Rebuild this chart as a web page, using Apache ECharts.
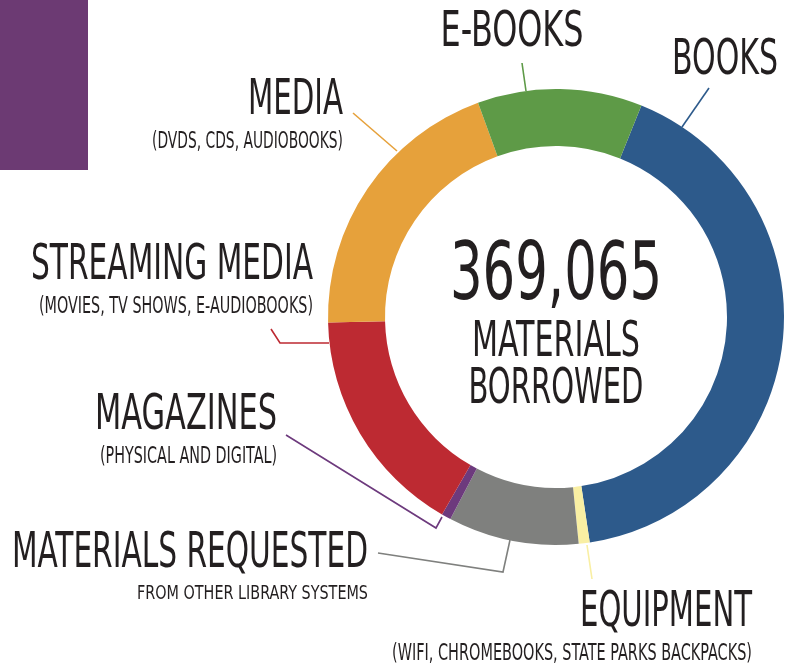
<!DOCTYPE html>
<html>
<head>
<meta charset="utf-8">
<script src="https://cdn.jsdelivr.net/npm/echarts@6/dist/echarts.min.js"></script>
<style>
    html, body { margin: 0; padding: 0; background: #fff; }
    #chart { width: 785px; height: 664px; }
</style>
</head>
<body>
<div id="chart"></div>
<script>
(function() {

    // 数据：从图上估读 (clockwise, starting at the blue/green boundary)
    var names = ['BOOKS', 'EQUIPMENT', 'MATERIALS REQUESTED', 'MAGAZINES', 'STREAMING MEDIA', 'MEDIA', 'E-BOOKS'];
    var subs = ['', '(WIFI, CHROMEBOOKS, STATE PARKS BACKPACKS)', 'FROM OTHER LIBRARY SYSTEMS',
        '(PHYSICAL AND DIGITAL)', '(MOVIES, TV SHOWS, E-AUDIOBOOKS)', '(DVDS, CDS, AUDIOBOOKS)', ''];
    var values = [153250, 2870, 34150, 2460, 60080, 73200, 43055];
    var colors = ['#2d5a8b', '#f9efa3', '#7f807e', '#6d3a7d', '#bd2a32', '#e6a13b', '#5e9a47'];
    var totalText = '369,065';
    var centerLines = ['MATERIALS', 'BORROWED'];

    // 标签位置 (x = anchor, y = cap top, w = title width, sw = subtitle width), leader line points
    var labelPos = [
        { x: 778, y: 40, w: 106, align: 'right', line: [[682, 127], [709, 88]] },
        { x: 752, y: 592, w: 172, sw: 360, align: 'right', line: [[587, 545], [592, 579]] },
        { x: 368, y: 533, w: 356, sw: 231, align: 'right', line: [[510, 540], [503, 572], [378, 553]] },
        { x: 277, y: 395, w: 182, sw: 177, align: 'right', line: [[442, 517], [436, 528], [286, 435]] },
        { x: 313, y: 245, w: 282, sw: 274, align: 'right', line: [[329, 343], [280, 343], [271, 329]] },
        { x: 343, y: 80, w: 95, sw: 191, align: 'right', line: [[397, 151], [353, 113]] },
        { x: 512, y: 12, w: 143, align: 'center', line: [[522, 63], [526, 91]] }
    ];

    var FONT = "'Liberation Sans Narrow', 'DejaVu Sans Condensed', sans-serif";

    // 量文字宽度，横向压缩到目标宽度
    var ctx = document.createElement('canvas').getContext('2d');
    function fitScale(text, font, width) {
        ctx.font = font;
        return width / ctx.measureText(text).width;
    }

    function textEl(text, x, y, size, width, align) {
        var font = size + 'px ' + FONT;
        return {
            type: 'text',
            x: x,
            y: y,
            scaleX: fitScale(text, font, width),
            style: {
                text: text,
                fill: '#231f20',
                font: font,
                align: align,
                verticalAlign: 'top'
            }
        };
    }

    var graphics = [{
        type: 'rect',
        shape: { x: 0, y: 0, width: 88, height: 170 },
        style: { fill: '#6c3a73' }
    }];

    for (var i = 0; i < names.length; i++) {
        var p = labelPos[i];
        graphics.push({
            type: 'polyline',
            shape: { points: p.line },
            style: { stroke: colors[i], lineWidth: 1.6, fill: null }
        });
        graphics.push(textEl(names[i], p.x, p.y - 4, 50, p.w, p.align));
        if (subs[i]) {
            graphics.push(textEl(subs[i], p.x, p.y + 51, i === 2 ? 20 : 23, p.sw, p.align));
        }
    }

    graphics.push(textEl(totalText, 556, 238, 80, 212, 'center'));
    graphics.push(textEl(centerLines[0], 556, 319, 49, 168, 'center'));
    graphics.push(textEl(centerLines[1], 556, 366, 49, 175, 'center'));

    var seriesData = [];
    for (var k = 0; k < names.length; k++) {
        seriesData.push({ name: names[k], value: values[k], itemStyle: { color: colors[k] } });
    }

    var myChart = echarts.init(document.getElementById('chart'));
    myChart.setOption({
        animation: false,
        series: [{
            type: 'pie',
            center: [556, 317],
            radius: [171, 228],
            startAngle: 68,
            clockwise: true,
            silent: true,
            label: { show: false },
            labelLine: { show: false },
            itemStyle: { borderWidth: 0 },
            data: seriesData
        }],
        graphic: graphics
    });

})();
</script>
</body>
</html>
